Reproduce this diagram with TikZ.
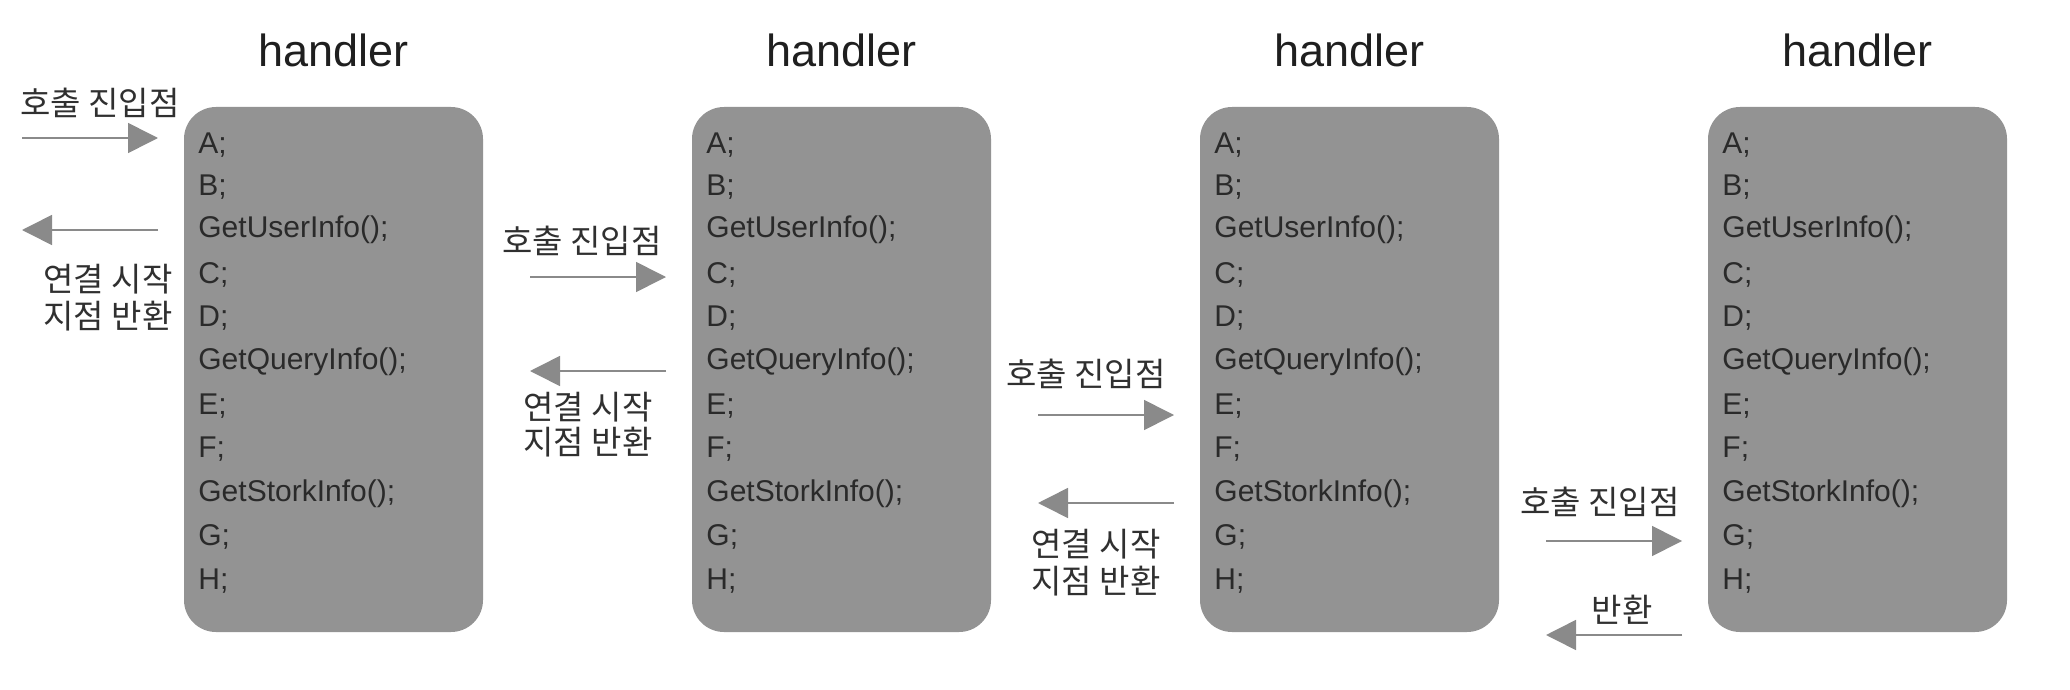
\documentclass[tikz,border=0pt]{standalone}
\usepackage{fontspec}
\setmainfont{Liberation Sans}
\newfontfamily\kr{Noto Sans CJK KR}
\usetikzlibrary{arrows.meta}
\definecolor{boxgray}{HTML}{939393}
\definecolor{codetext}{HTML}{2A2A2A}
\definecolor{arrgray}{HTML}{8A8A8A}
\definecolor{labtext}{HTML}{303030}
\tikzset{
  handlerbox/.style={fill=boxgray, draw=none, rounded corners=16pt, minimum width=149.5pt, minimum height=262.5pt, inner sep=0pt},
  titletext/.style={font=\fontsize{22.5}{24}\selectfont, text=black!88, inner sep=0pt},
  codeline/.style={font=\fontsize{15}{17}\selectfont, text=codetext, anchor=west, inner sep=0pt},
  labeltext/.style={font=\kr\fontsize{16.5}{18}\selectfont, text=labtext, inner sep=0pt},
  flowarrow/.style={draw=arrgray, line width=0.8pt, -{Triangle[length=15pt,width=15pt,fill=arrgray]}}
}
\begin{document}
\begin{tikzpicture}[x=0.5pt, y=-0.5pt]
\useasboundingbox (0,0) rectangle (2070,690);
\foreach \i/\L in {1/184, 2/692, 3/1200, 4/1708} {
  \node[handlerbox] (b\i) at ({\L+149.5}, 369.5) {};
  \node[titletext] (t\i) at ({\L+149.5}, 50) {handler};
  \foreach \k/\y/\txt in {1/145/A;, 2/187/B;, 3/230/GetUserInfo();, 4/275/C;, 5/318/D;, 6/362/GetQueryInfo();, 7/406/E;, 8/449/F;, 9/494/GetStorkInfo();, 10/537/G;, 11/581/H;} {
    \node[codeline] (c\i-\k) at ({\L+14}, \y) {\txt};
  }
}
% box 1 arrows
\node[labeltext] (in1) at (100, 103) {호출 진입점};
\coordinate (f1s) at (22, 138);
\coordinate (f1e) at (158, 138);
\draw[flowarrow] (f1s) -- (f1e);
\coordinate (r1s) at (158, 230);
\coordinate (r1e) at (22, 230);
\draw[flowarrow] (r1s) -- (r1e);
\node[labeltext] (ret1a) at (108, 279) {연결 시작};
\node[labeltext] (ret1b) at (108, 316) {지점 반환};
% box 2 arrows
\node[labeltext] (in2) at (582, 241) {호출 진입점};
\coordinate (f2s) at (530, 277);
\coordinate (f2e) at (666, 277);
\draw[flowarrow] (f2s) -- (f2e);
\coordinate (r2s) at (666, 371);
\coordinate (r2e) at (530, 371);
\draw[flowarrow] (r2s) -- (r2e);
\node[labeltext] (ret2a) at (588, 407) {연결 시작};
\node[labeltext] (ret2b) at (588, 442) {지점 반환};
% box 3 arrows
\node[labeltext] (in3) at (1086, 374) {호출 진입점};
\coordinate (f3s) at (1038, 415);
\coordinate (f3e) at (1174, 415);
\draw[flowarrow] (f3s) -- (f3e);
\coordinate (r3s) at (1174, 503);
\coordinate (r3e) at (1038, 503);
\draw[flowarrow] (r3s) -- (r3e);
\node[labeltext] (ret3a) at (1096, 544) {연결 시작};
\node[labeltext] (ret3b) at (1096, 581) {지점 반환};
% box 4 arrows
\node[labeltext] (in4) at (1600, 502) {호출 진입점};
\coordinate (f4s) at (1546, 541);
\coordinate (f4e) at (1682, 541);
\draw[flowarrow] (f4s) -- (f4e);
\node[labeltext] (ret4) at (1622, 610) {반환};
\coordinate (r4s) at (1682, 635);
\coordinate (r4e) at (1546, 635);
\draw[flowarrow] (r4s) -- (r4e);
\end{tikzpicture}
\end{document}
